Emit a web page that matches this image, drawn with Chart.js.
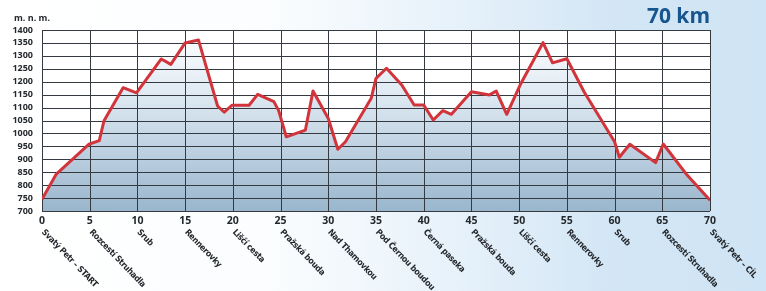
<!DOCTYPE html>
<html>
<head>
<meta charset="utf-8">
<script src="https://cdn.jsdelivr.net/npm/chart.js@4/dist/chart.umd.min.js"></script>
<style>
  html, body { margin: 0; padding: 0; }
  body {
    width: 766px; height: 291px; overflow: hidden;
    background: linear-gradient(to right, #ffffff 0%, #fbfdfe 35%, #e6f1fa 60%, #d3e6f5 80%, #cfe4f4 100%);
  }
  #wrap { position: relative; width: 766px; height: 291px; }
  canvas { display: block; }
</style>
</head>
<body>
<div id="wrap"><canvas id="profile" width="766" height="291"></canvas></div>
<script>
// distance along the route (km) and elevation (m n. m.)
var kmValues = [0, 1.5, 4.9, 6.0, 6.5, 8.5, 9.9, 12.5, 13.5, 15.0, 16.4, 18.4, 19.1, 19.9, 21.7, 22.6, 24.3, 24.8, 25.6, 27.6,
  28.4, 30.0, 31.0, 31.8, 34.5, 35.0, 36.1, 37.7, 39.0, 40.0, 41.0, 42.0, 42.9, 45.0, 46.9, 47.6, 48.7, 50.1, 52.5, 53.5,
  55.0, 56.8, 60.0, 60.5, 61.6, 64.3, 65.1, 67.6, 70];
var elevationValues = [745, 843, 958, 972, 1049, 1177, 1157, 1288, 1267, 1350, 1361, 1106, 1082, 1109, 1109, 1151, 1123, 1088, 987, 1013,
  1164, 1058, 939, 968, 1136, 1213, 1252, 1187, 1110, 1110, 1052, 1088, 1074, 1161, 1149, 1164, 1074, 1187, 1351, 1273,
  1289, 1161, 968, 908, 958, 887, 959, 839, 742];

// place names under each 5 km tick
var placeKm = [0, 5, 10, 15, 20, 25, 30, 35, 40, 45, 50, 55, 60, 65, 70];
var placeNames = ["Svatý Petr – START", "Rozcestí Struhadla", "Srub", "Rennerovky", "Liščí cesta", "Pražská bouda",
  "Nad Thamovkou", "Pod Černou boudou", "Černá paseka", "Pražská bouda", "Liščí cesta", "Rennerovky", "Srub",
  "Rozcestí Struhadla", "Svatý Petr – CÍL"];

var totalLabel = "70 km";
var unitLabel = "m. n. m.";

var points = [];
for (var i = 0; i < kmValues.length; i++) {
  points.push({x: kmValues[i], y: elevationValues[i]});
}

var gridColor = '#353a40';

//white plot background + place names + headings
var decorPlugin = {
  id: 'decor',
  beforeDraw: function(chart) {
    var a = chart.chartArea;
    var c = chart.ctx;
    c.save();
    c.fillStyle = '#ffffff';
    c.fillRect(a.left, a.top, a.right - a.left, a.bottom - a.top);
    c.restore();
  },
  beforeDatasetDraw: function(chart) {
    // redraw grid over the filled area, under the line
    var a = chart.chartArea;
    var c = chart.ctx;
    var xs = chart.scales.x, ys = chart.scales.y;
    c.save();
    c.strokeStyle = gridColor;
    c.lineWidth = 1;
    c.beginPath();
    ys.ticks.forEach(function(t) {
      var py = Math.round(ys.getPixelForValue(t.value)) + 0.5;
      c.moveTo(a.left, py); c.lineTo(a.right, py);
    });
    xs.ticks.forEach(function(t) {
      var px = Math.round(xs.getPixelForValue(t.value)) + 0.5;
      c.moveTo(px, a.top); c.lineTo(px, a.bottom);
    });
    c.stroke();
    c.restore();
  },
  afterDraw: function(chart) {
    var c = chart.ctx;
    var xs = chart.scales.x;
    var a = chart.chartArea;
    c.save();
    c.fillStyle = '#24282c';
    c.font = 'bold 8.6px "Liberation Sans Narrow", "DejaVu Sans Condensed", sans-serif';
    c.letterSpacing = '-0.3px';
    c.textAlign = 'left';
    c.textBaseline = 'top';
    for (var i = 0; i < placeKm.length; i++) {
      var px = xs.getPixelForValue(placeKm[i]);
      c.save();
      c.translate(px + 4, a.bottom + 17);
      c.rotate(46 * Math.PI / 180);
      c.fillText(placeNames[i], 0, 0);
      c.restore();
    }
    c.letterSpacing = '0px';
    c.font = 'bold 9px "Open Sans", sans-serif';
    c.textBaseline = 'middle';
    c.fillText(unitLabel, 14, 18);
    c.fillStyle = '#17558f';
    c.font = 'bold 21px "Open Sans", sans-serif';
    c.textAlign = 'right';
    c.fillText(totalLabel, a.right, 17);
    c.restore();
  }
};

var ctx = document.getElementById('profile').getContext('2d');
var fillGrad = ctx.createLinearGradient(0, 30, 0, 211);
fillGrad.addColorStop(0, '#ffffff');
fillGrad.addColorStop(0.3, '#e4edf5');
fillGrad.addColorStop(0.65, '#bfd2e2');
fillGrad.addColorStop(1, '#9ab6cd');

var chart = new Chart(ctx, {
  type: 'line',
  data: {
    datasets: [{
      data: points,
      borderColor: '#d2343b',
      borderWidth: 3,
      backgroundColor: fillGrad,
      fill: 'start',
      pointRadius: 0,
      tension: 0,
      borderJoinStyle: 'round'
    }]
  },
  options: {
    responsive: false,
    animation: false,
    events: [],
    layout: { padding: { top: 30, right: 56, left: 0, bottom: 0 } },
    plugins: { legend: { display: false }, tooltip: { enabled: false } },
    scales: {
      x: {
        type: 'linear',
        min: 0, max: 70,
        grid: { display: false, drawTicks: false },
        border: { display: false },
        ticks: {
          stepSize: 5,
          padding: 4,
          maxRotation: 0,
          autoSkip: false,
          color: '#24282c',
          font: { family: '"Open Sans", sans-serif', size: 10.5, weight: 'bold' },
          callback: function(v) { return String(v); }
        },
        afterFit: function(s) { s.height = 80; }
      },
      y: {
        min: 700, max: 1400,
        grid: { display: false, drawTicks: false },
        border: { display: false },
        ticks: {
          stepSize: 50,
          padding: 9,
          autoSkip: false,
          color: '#24282c',
          font: { family: '"Open Sans", sans-serif', size: 9, weight: 'bold' },
          callback: function(v) { return String(v); }
        },
        afterFit: function(s) { s.width = 42; }
      }
    }
  },
  plugins: [decorPlugin]
});
</script>
</body>
</html>
